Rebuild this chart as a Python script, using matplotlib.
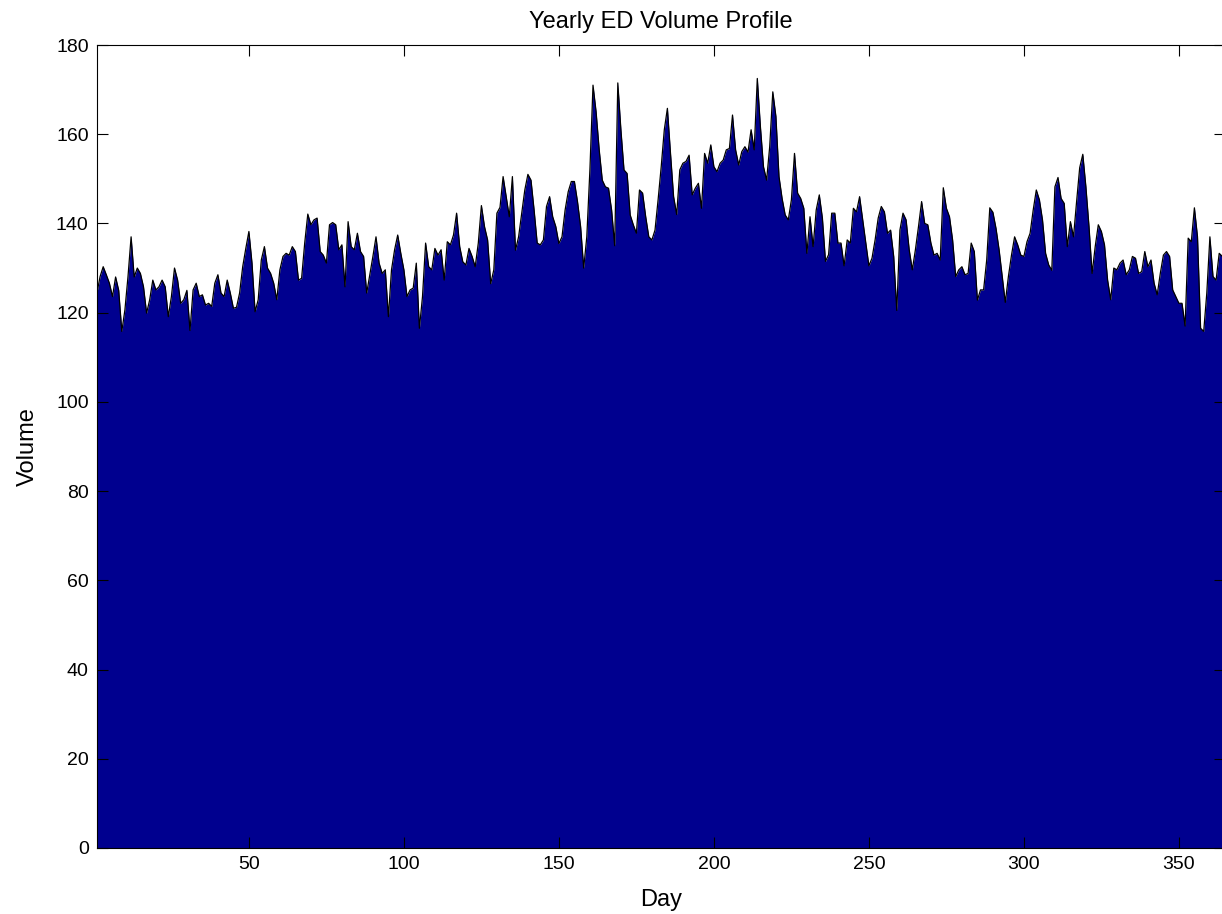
import matplotlib
matplotlib.use("Agg")
import matplotlib.pyplot as plt
import numpy as np

# daily average ED volume, day 1 .. 365
volume = [
    124.5, 128.1, 130.3, 128.5, 126.6, 123.6, 128.0, 125.0, 115.8, 120.6,
    128.1, 137.0, 128.0, 130.0, 128.8, 125.8, 119.9, 122.9, 127.3, 125.1,
    125.8, 127.3, 125.8, 119.1, 123.6, 130.0, 127.3, 122.1, 122.9, 125.0,
    116.0, 125.1, 126.6, 123.6, 124.0, 121.7, 122.1, 121.4, 126.6, 128.5,
    124.4, 123.6, 127.3, 124.4, 121.0, 121.2, 124.4, 130.3, 134.4, 138.2,
    131.1, 120.2, 122.9, 131.8, 134.8, 130.0, 128.8, 126.6, 122.9, 129.6,
    132.6, 133.3, 132.9, 134.8, 133.7, 127.3, 127.7, 135.6, 142.1, 139.7,
    140.8, 141.2, 133.7, 132.9, 131.1, 139.7, 140.2, 139.7, 134.1, 135.2,
    125.8, 140.4, 134.8, 134.1, 137.8, 133.7, 132.6, 124.4, 128.5, 132.6,
    137.0, 131.1, 128.8, 129.6, 119.1, 129.6, 134.1, 137.4, 133.3, 129.6,
    123.6, 125.1, 125.5, 131.1, 116.5, 123.6, 135.6, 130.3, 129.6, 134.4,
    132.9, 134.1, 127.3, 135.9, 135.2, 137.4, 142.3, 134.8, 131.4, 130.7,
    134.4, 132.6, 130.3, 135.6, 144.0, 139.3, 136.3, 126.5, 129.6, 142.3,
    143.6, 150.5, 146.0, 141.5, 150.5, 134.0, 137.0, 142.3, 147.5, 151.0,
    149.7, 143.0, 135.6, 135.2, 136.3, 143.8, 146.0, 141.5, 139.3, 135.5,
    137.0, 143.0, 147.1, 149.4, 149.4, 144.9, 139.3, 130.0, 137.0, 152.0,
    171.0, 165.0, 156.5, 149.7, 148.2, 147.9, 143.0, 135.0, 171.5, 161.0,
    152.0, 151.2, 141.9, 139.7, 137.8, 147.5, 146.8, 141.5, 137.0, 136.3,
    138.5,
    145.3, 152.7, 161.0, 165.8, 155.7, 146.0, 142.0, 152.0, 153.5, 153.9,
    155.3, 146.4, 147.9, 149.0, 143.4, 155.7, 153.5, 157.6, 152.7, 151.6,
    153.5, 154.2, 156.5, 156.8, 164.3, 156.5, 153.1, 156.1, 157.2, 156.0,
    161.0,
    156.5, 172.5, 161.7, 152.7, 149.7, 157.2, 169.5, 164.0, 150.5, 145.6,
    141.9, 140.8, 145.3, 155.7, 146.8, 145.6, 143.4, 133.3, 141.5, 134.8,
    143.0, 146.4, 141.2, 131.5, 133.0, 142.3, 142.3, 135.6, 135.6, 130.5,
    136.3, 135.6, 143.4, 142.6, 146.0, 140.8, 135.6, 130.5, 132.2, 136.3,
    141.2, 143.8, 142.6, 137.8, 138.5, 132.6, 120.5, 138.5, 142.3, 140.8,
    134.1, 129.6, 134.1, 139.3, 144.9, 140.0, 139.7, 135.6, 132.9, 133.3,
    131.8,
    148.0, 143.4, 141.5, 136.3, 128.1, 129.6, 130.3, 128.5, 128.8, 135.6,
    133.7, 122.8, 125.1, 125.1, 131.8, 143.5, 142.5, 138.9, 134.1, 128.1,
    122.3, 128.1, 132.9, 137.0, 135.2, 132.9, 132.6, 135.9, 137.8, 143.0,
    147.5, 145.3, 140.8, 133.3, 130.7, 129.5, 148.2, 150.3, 145.6, 144.5,
    134.8, 140.4, 137.0, 144.9, 152.5, 155.5, 148.2, 139.3, 128.8, 134.8,
    139.7, 138.2, 135.2, 127.3, 122.9, 130.0, 129.6, 131.1, 131.8, 128.5,
    129.6, 132.6, 132.2, 128.8, 129.2, 133.7, 130.3, 131.8, 126.6, 124.0,
    128.8, 132.9, 133.7, 132.6, 125.1, 123.6, 122.1, 122.1, 117.0, 136.7,
    135.9, 143.5, 137.0, 116.5, 115.8, 124.4, 137.0, 128.1, 127.3, 133.3,
    132.6, 132.0,
]

xTicks = [50, 100, 150, 200, 250, 300, 350]
yTicks = [0, 20, 40, 60, 80, 100, 120, 140, 160, 180]


def makeGraph(volume, outPath="out.png"):
    days = np.arange(1, len(volume) + 1)

    fig = plt.figure(figsize=(12.22, 9.14), dpi=100)
    # axes run a little past the right edge of the figure
    ax = fig.add_axes([97 / 1222, 66 / 914, 1128.4 / 1222, 803 / 914])

    ax.fill_between(days, volume, 0, color="#00008f", linewidth=0)
    ax.plot(days, volume, color="black", linewidth=0.9)

    ax.set_xlim(1, 365)
    ax.set_ylim(0, 180)
    ax.set_xticks(xTicks)
    ax.set_yticks(yTicks)
    ax.tick_params(axis="both", direction="in", length=8, width=0.8,
                   labelsize=14, top=True, right=True, pad=6)
    for spine in ax.spines.values():
        spine.set_linewidth(0.8)

    ax.set_xlabel("Day", fontsize=17, labelpad=11)
    ax.set_ylabel("Volume", fontsize=17, labelpad=12)
    ax.set_title("Yearly ED Volume Profile", fontsize=17, pad=12)

    plt.savefig(outPath, dpi=100)


if __name__ == "__main__":
    plt.rcParams["font.family"] = ["Liberation Sans", "DejaVu Sans"]
    makeGraph(volume)
